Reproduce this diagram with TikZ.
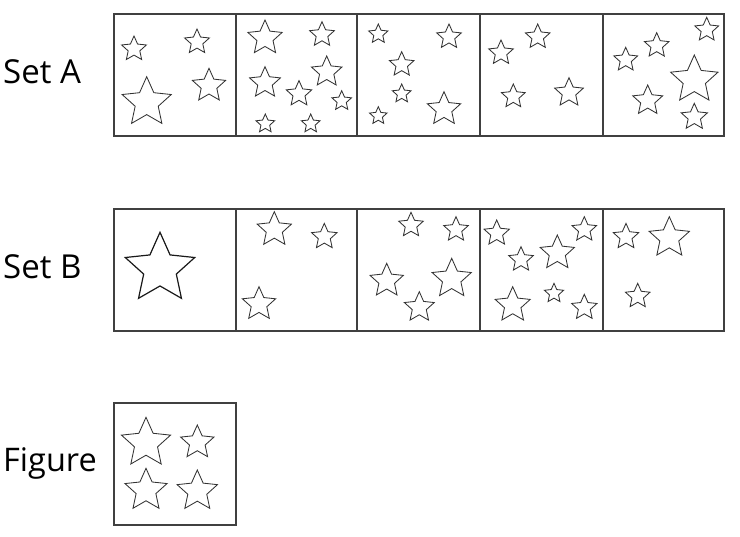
\documentclass[tikz,border=0pt]{standalone}
\usepackage{fontspec}
\setmainfont{Open Sans}
\newcommand\drawstar[3]{%
  \draw[st, shift={(#1,#2)}] (-90:#3) -- (-54:{#3*0.47}) -- (-18:#3) -- (18:{#3*0.47}) -- (54:#3) -- (90:{#3*0.47}) -- (126:#3) -- (162:{#3*0.47}) -- (198:#3) -- (234:{#3*0.47}) -- cycle;}
\begin{document}
\begin{tikzpicture}[x=1pt,y=-1pt,
  st/.style={draw=black!80, line width=0.85pt, line join=miter},
  cell/.style={draw=black!75, line width=1.1pt},
  lbl/.style={anchor=base west, inner sep=0pt, text=black}]
\useasboundingbox (0,0) rectangle (740,537);
% labels
\node[lbl, font=\fontsize{33}{36}\selectfont] (la) at (3,83.3) {Set A};
\node[lbl, font=\fontsize{33}{36}\selectfont] (lb) at (3,278.3) {Set B};
\node[lbl, font=\fontsize{32.5}{35}\selectfont] (lf) at (3,471.7) {Figure};
% boxes
\draw[cell] (114,14) rectangle (724,136);
\foreach \xx in {236,357,480,603} \draw[cell] (\xx,14) -- (\xx,136);
\draw[cell] (114,209) rectangle (724,331);
\foreach \xx in {236,357,480,603} \draw[cell] (\xx,209) -- (\xx,331);
\draw[cell] (114,403) rectangle (236,525);
% Set A stars
\foreach \a/\b/\r in {134/49/13, 197/42/13, 146.7/102.5/25.8, 209/85.8/17.5,
  265/38/18, 322/34.7/13, 265/82.9/16.2, 326.7/72/16, 299/94/13.4, 341.7/101/10.3, 265.3/123.8/9.8, 310.7/123.8/9.8,
  378.3/34.1/10.1, 449/36.9/12.9, 401.7/64.6/12.9, 401.7/93.8/9.8, 378.3/115.9/9.2, 444/109.2/17.5,
  501/52.9/12.9, 537.7/36.9/12.9, 513.3/96.5/12.5, 569/92.8/15.1,
  625.7/59.8/12.5, 656.7/45.6/12.9, 706.7/29.8/12.5, 694.3/79.9/24.9, 647.7/100.7/15.7, 694.3/117.1/13.8}
  {\drawstar{\a}{\b}{\r}}
% Set B stars
\begin{scope}[st/.append style={line width=1.2pt, draw=black!90}]
\drawstar{160}{268.8}{36.5}
\end{scope}
\foreach \a/\b/\r in {274.3/229.7/18, 324.3/236.8/13.4, 259/304.2/17.5,
  411/225.2/12.9, 456/229.6/12.9, 386.7/280.8/17.5, 451.7/278.9/20.6, 419.3/307.4/15.7,
  496.7/233.3/13.3, 584.3/229.6/12.9, 521/259.6/12.9, 557.3/253/18, 512.7/305.1/18.4, 554/293.4/10.1, 584.3/307.6/13.3,
  626/236.8/13.4, 669.3/237.9/21.2, 637.7/296.2/12.9}
  {\drawstar{\a}{\b}{\r}}
% Figure stars
\foreach \a/\b/\r in {146/443.1/25.8, 197.3/442.5/17.5, 146/490.4/22.1, 197.3/491.2/21.2}
  {\drawstar{\a}{\b}{\r}}
\end{tikzpicture}
\end{document}
